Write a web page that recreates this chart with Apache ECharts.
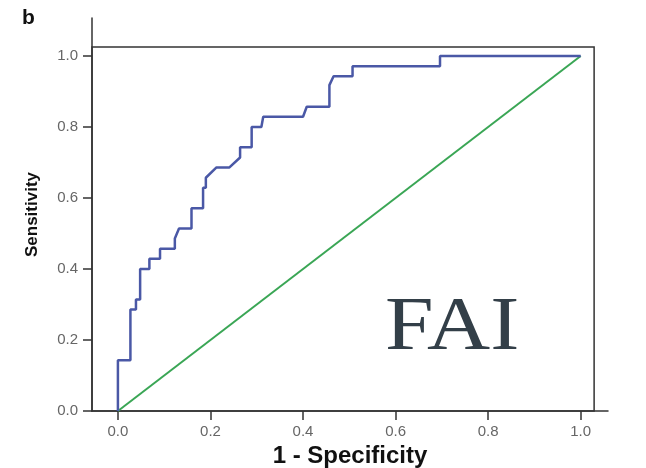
<!DOCTYPE html>
<html>
<head>
<meta charset="utf-8">
<script src="https://cdn.jsdelivr.net/npm/echarts@6/dist/echarts.min.js"></script>
<style>
  html, body { margin: 0; padding: 0; background: #fff; }
  #chart { width: 646px; height: 468px; }
</style>
</head>
<body>
<div id="chart"></div>
<script>
// ROC curve corner points (1 - specificity, sensitivity)
var rocFpr = [0, 0, 0.027, 0.027, 0.039, 0.039, 0.048, 0.048, 0.068, 0.068, 0.091, 0.091,
  0.123, 0.123, 0.132, 0.159, 0.159, 0.184, 0.184, 0.19, 0.19, 0.213, 0.241, 0.264, 0.264,
  0.289, 0.289, 0.31, 0.314, 0.40, 0.408, 0.457, 0.457, 0.466, 0.507, 0.507, 0.696, 0.696, 1.0];
var rocTpr = [0, 0.143, 0.143, 0.286, 0.286, 0.314, 0.314, 0.4, 0.4, 0.429, 0.429, 0.457,
  0.457, 0.486, 0.514, 0.514, 0.571, 0.571, 0.629, 0.629, 0.657, 0.686, 0.686, 0.714, 0.743,
  0.743, 0.8, 0.8, 0.829, 0.829, 0.857, 0.857, 0.918, 0.943, 0.943, 0.971, 0.971, 1.0, 1.0];
var refX = [0, 1];
var refY = [0, 1];
var tickValues = [0, 0.2, 0.4, 0.6, 0.8, 1.0];

function pairs(xs, ys) {
  var out = [];
  for (var i = 0; i < xs.length; i++) out.push([xs[i], ys[i]]);
  return out;
}

var chart = echarts.init(document.getElementById('chart'));

var axisCommon = {
  type: 'value',
  splitLine: { show: false },
  nameMoveOverlap: false,
  axisLine: { show: true, onZero: false, lineStyle: { color: '#333', width: 1.5 } },
  axisTick: { show: true, customValues: tickValues, length: 9, lineStyle: { color: '#333', width: 1.5 } },
  axisLabel: {
    customValues: tickValues,
    color: '#666',
    fontSize: 15,
    fontFamily: 'Liberation Sans, Arial, sans-serif',
    formatter: function (v) { return v.toFixed(1); }
  }
};

var option = {
  animation: false,
  backgroundColor: '#fff',
  grid: { left: 92, right: 38, top: 18, bottom: 57, outerBoundsMode: 'none', containLabel: false },
  xAxis: echarts.util.merge({
    min: -0.056, max: 1.059,
    name: '1 - Specificity',
    nameLocation: 'middle',
    nameGap: 33,
    nameTextStyle: { fontSize: 24, fontWeight: 'bold', color: '#111', fontFamily: 'Liberation Sans, Arial, sans-serif' },
    axisLabel: { margin: 13 }
  }, axisCommon, false),
  yAxis: echarts.util.merge({
    min: 0, max: 1.107,
    name: 'Sensitivity',
    nameLocation: 'middle',
    nameGap: 51,
    nameRotate: 90,
    nameTextStyle: { fontSize: 17, fontWeight: 'bold', color: '#111', fontFamily: 'Liberation Sans Narrow, Arial Narrow, Liberation Sans, sans-serif' },
    axisLabel: { margin: 14 }
  }, axisCommon, false),
  series: [
    {
      type: 'line',
      data: pairs(refX, refY),
      symbol: 'none',
      lineStyle: { color: '#3aa655', width: 2 },
      markArea: {
        silent: true,
        itemStyle: { color: 'rgba(0,0,0,0)', borderColor: '#333', borderWidth: 1.5 },
        data: [[{ coord: [-0.056, 0] }, { coord: [1.029, 1.025] }]]
      },
      z: 2
    },
    {
      type: 'line',
      data: pairs(rocFpr, rocTpr),
      symbol: 'none',
      lineStyle: { color: '#4a58a6', width: 2.5 },
      z: 3
    }
  ],
  graphic: [
    {
      type: 'text', left: 22, top: 8,
      style: { text: 'b', font: 'bold 21px Liberation Sans, Arial, sans-serif', fill: '#111' }
    },
    {
      type: 'text', x: 385, y: 329, scaleX: 1.15, scaleY: 1,
      style: {
        text: 'FAI', font: '76px Liberation Serif, Times New Roman, serif', fill: '#333f48',
        verticalAlign: 'middle', align: 'left'
      }
    }
  ]
};

chart.setOption(option);
</script>
</body>
</html>
